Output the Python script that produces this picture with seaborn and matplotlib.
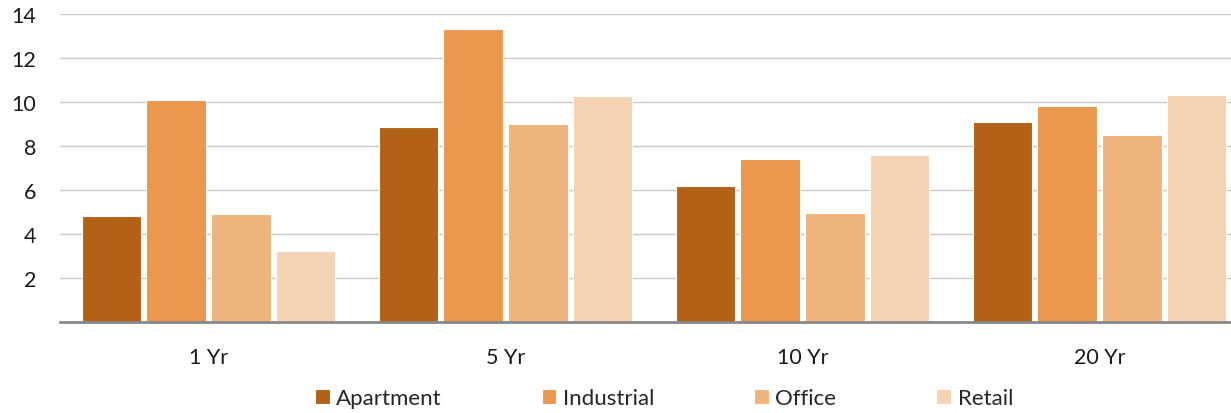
import matplotlib
matplotlib.use("Agg")
import matplotlib.pyplot as plt
import seaborn as sns
import pandas as pd

# Annualized returns by property type and holding period
periods = ["1 Yr", "5 Yr", "10 Yr", "20 Yr"]
property_types = ["Apartment", "Industrial", "Office", "Retail"]
apartment = [4.82, 8.88, 6.20, 9.09]
industrial = [10.11, 13.32, 7.41, 9.82]
office = [4.90, 8.99, 4.95, 8.50]
retail = [3.21, 10.30, 7.58, 10.35]
yticks = [2, 4, 6, 8, 10, 12, 14]

colors = ["#B36116", "#E9984D", "#EFB37D", "#F5D3B3"]

series = {"Apartment": apartment, "Industrial": industrial,
          "Office": office, "Retail": retail}
df = pd.DataFrame([
    {"period": p, "type": t, "value": v}
    for t in property_types
    for p, v in zip(periods, series[t])
])

sns.set_theme(style="white")
plt.rcParams["font.family"] = ["Lato", "DejaVu Sans"]

fig = plt.figure(figsize=(12.31, 4.14), dpi=100)
ax = fig.add_axes([60 / 1231, 1 - 323 / 414, 1188 / 1231, (323 - 15.3) / 414])

sns.barplot(data=df, x="period", y="value", hue="type", order=periods,
            hue_order=property_types, palette=colors, width=0.87, gap=0.08,
            edgecolor="white", linewidth=0.8, saturation=1, ax=ax,
            legend=True)

ax.set_xlim(-0.5, len(periods) - 0.5)
ax.set_ylim(0, 14)
ax.set_yticks(yticks)
ax.set_yticklabels([str(t) for t in yticks])
ax.yaxis.grid(True, color="#C8C8C8", linewidth=1)
ax.set_axisbelow(True)
for side in ["top", "right", "left"]:
    ax.spines[side].set_visible(False)
ax.spines["bottom"].set_color("#888888")
ax.spines["bottom"].set_linewidth(2)
ax.tick_params(axis="both", length=0, labelsize=15.5, colors="#1a1a1a")
ax.tick_params(axis="y", pad=17)
ax.tick_params(axis="x", pad=18)
ax.set_xlabel("")
ax.set_ylabel("")

handles, labels = ax.get_legend_handles_labels()
ax.legend_.remove()
fig.legend(handles, labels, loc="center", bbox_to_anchor=(664 / 1231, 1 - 399 / 414),
           ncol=4, frameon=False, fontsize=16, handlelength=0.65,
           handleheight=0.65, handletextpad=0.3, columnspacing=4.5,
           borderpad=0)

fig.savefig("out.png", dpi=100)
